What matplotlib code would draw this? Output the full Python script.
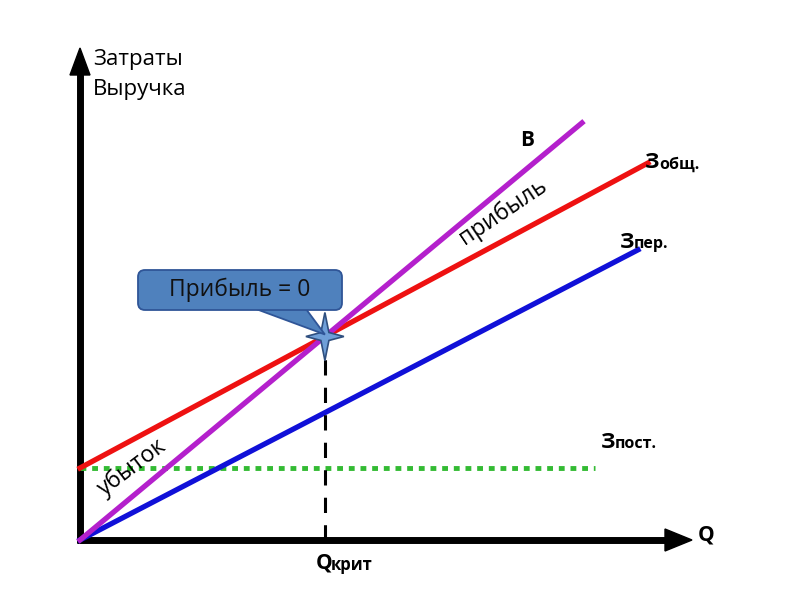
import matplotlib.pyplot as plt
from matplotlib.patches import FancyBboxPatch, Polygon
import numpy as np

plt.rcParams['font.family'] = ['Open Sans', 'DejaVu Sans']

# data (Q on x, money on y)
q_max = {'revenue': 502, 'total': 568, 'variable': 558, 'fixed': 515}
fixed_cost = 72
slope_revenue = 0.831
slope_total = 0.537
slope_variable = 0.52

q_crit = fixed_cost / (slope_revenue - slope_total)
v_crit = slope_revenue * q_crit

fig = plt.figure(figsize=(8, 6), dpi=100)
ax = fig.add_axes([0, 0, 1, 1])
ax.set_xlim(-80, 720)
ax.set_ylim(-60, 540)
ax.axis('off')

# axes with arrows
ax.plot([0, 0], [-3, 470], color='black', lw=5, solid_capstyle='butt')
ax.add_patch(Polygon([[-10, 465], [10, 465], [0, 492]], closed=True, color='black'))
ax.plot([-3, 585], [0, 0], color='black', lw=5, solid_capstyle='butt')
ax.add_patch(Polygon([[585, -11], [585, 11], [612, 0]], closed=True, color='black'))

# lines
q = np.array([0, q_max['fixed']])
ax.plot(q, [fixed_cost, fixed_cost], color='#33bb33', lw=3.5, ls=(0, (1.2, 1.2)))
q = np.array([0, q_max['variable']])
ax.plot(q, slope_variable * q, color='#1010d8', lw=3.8)
q = np.array([0, q_max['total']])
ax.plot(q, fixed_cost + slope_total * q, color='#ee1111', lw=3.8)
q = np.array([0, q_max['revenue']])
ax.plot(q, slope_revenue * q, color='#b420cc', lw=3.8)

# critical volume
ax.plot([q_crit, q_crit], [0, v_crit], color='black', lw=2.2, ls=(0, (5, 4)))

# star at break-even point
cx, cy = q_crit, v_crit
star = [[cx, cy + 24], [cx + 4, cy + 4], [cx + 19, cy], [cx + 4, cy - 4],
        [cx, cy - 24], [cx - 4, cy - 4], [cx - 19, cy], [cx - 4, cy + 4]]
ax.add_patch(Polygon(star, closed=True, facecolor='#6f9fd8', edgecolor='#2f4f7f', lw=1.2, zorder=5))

# callout
box = FancyBboxPatch((58, 230), 204, 40, boxstyle='round,pad=0,rounding_size=7',
                     facecolor='#4f81bd', edgecolor='#2f5597', lw=1.3, zorder=6)
ax.add_patch(box)
ax.add_patch(Polygon([[176, 231], [226, 231], [q_crit, v_crit + 2]], closed=True,
                     facecolor='#4f81bd', edgecolor='#2f5597', lw=1.3, zorder=5))
ax.text(160, 250, 'Прибыль = 0', fontsize=16.5, ha='center', va='center', color='#111111', zorder=7)

# labels
ax.text(13, 480, 'Затраты', fontsize=16, ha='left', va='center')
ax.text(13, 450, 'Выручка', fontsize=16, ha='left', va='center')
ax.text(447, 400, 'В', fontsize=15, fontweight='bold', ha='center', va='center')
ax.text(565, 378, 'З', fontsize=16, fontweight='bold', ha='left', va='center')
ax.text(579, 375, 'общ.', fontsize=11.5, fontweight='bold', ha='left', va='center')
ax.text(540, 298, 'З', fontsize=16, fontweight='bold', ha='left', va='center')
ax.text(554, 296, 'пер.', fontsize=11.5, fontweight='bold', ha='left', va='center')
ax.text(521, 98, 'З', fontsize=16, fontweight='bold', ha='left', va='center')
ax.text(535, 96, 'пост.', fontsize=11.5, fontweight='bold', ha='left', va='center')
ax.text(626, 5, 'Q', fontsize=15, fontweight='bold', ha='center', va='center')
ax.text(236, -23, 'Q', fontsize=15, fontweight='bold', ha='left', va='center')
ax.text(251, -25, 'крит', fontsize=12, fontweight='bold', ha='left', va='center')
ax.text(423, 328, 'прибыль', fontsize=16.5, rotation=34, ha='center', va='center')
ax.text(52, 73, 'убыток', fontsize=16.5, rotation=37, ha='center', va='center')

fig.savefig('out.png', dpi=100)
